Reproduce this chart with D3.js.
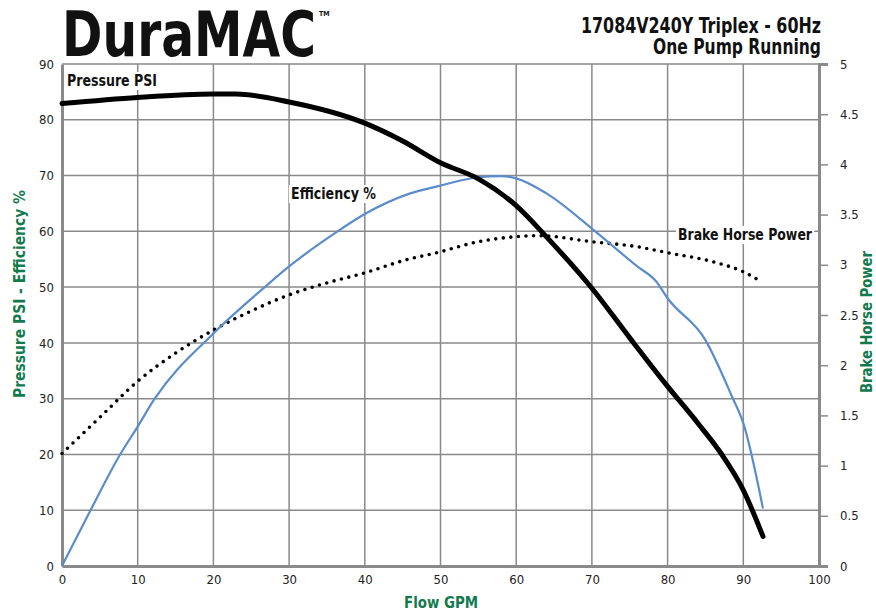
<!DOCTYPE html>
<html>
<head>
    <meta charset="utf-8">
    <title>DuraMAC 17084V240Y Triplex - 60Hz</title>
    <script src="https://d3js.org/d3.v7.min.js"></script>
    <style>
        body { margin: 0; background: #fff; }
        svg { display: block; }
        text { font-family: "DejaVu Sans Condensed", "DejaVu Sans", sans-serif; font-stretch: condensed; font-weight: bold; }
    </style>
</head>
<body>
<svg id="chart" width="876" height="611"></svg>
<script>
    // flow (GPM) vs pressure (PSI)
    var pressureFlow = [0, 10, 20, 23, 30, 40, 45, 50, 55, 60, 64, 70, 75, 80, 84, 87, 90, 92.6];
    var pressurePsi  = [82.9, 84.0, 84.6, 84.6, 83.2, 79.4, 76.2, 72.3, 69.4, 64.6, 59.0, 49.8, 40.9, 32.2, 25.6, 20.3, 13.6, 5.3];

    // flow vs efficiency %
    var effFlow = [0, 3.7, 7.6, 10, 12.2, 20, 26.7, 30, 36.3, 40, 46, 50, 55, 58, 60, 64, 70, 76, 78.5, 80, 85, 88.5, 90, 92.6];
    var effPct  = [0, 9.8, 19.8, 25.0, 29.9, 41.7, 49.9, 53.7, 59.9, 63.1, 66.8, 68.2, 69.7, 69.9, 69.5, 66.8, 60.5, 53.7, 51.0, 48.0, 40.5, 30.4, 25.6, 10.3];

    // flow vs brake horse power
    var bhpFlow = [0, 5, 10, 15, 20, 25, 30, 35, 40, 45, 50, 55, 60, 63, 70, 76, 80, 86, 90, 92.2];
    var bhpVal  = [1.12, 1.48, 1.84, 2.12, 2.35, 2.54, 2.70, 2.82, 2.92, 3.04, 3.13, 3.23, 3.28, 3.29, 3.23, 3.18, 3.12, 3.03, 2.93, 2.84];

    var xTicks = d3.range(0, 101, 10);
    var leftTicks = d3.range(0, 91, 10);
    var rightTicks = d3.range(0, 5.01, 0.5);

    (function() {
        var svg = d3.select("#chart");
        var mLeft = 62, mRight = 819, mTop = 64, mBottom = 566;
        var green = "#137a4e", grid = "#8a8a8a";

        var x = d3.scaleLinear().domain([0, 100]).range([mLeft, mRight]);
        var y = d3.scaleLinear().domain([0, 90]).range([mBottom, mTop]);
        var y2 = d3.scaleLinear().domain([0, 5]).range([mBottom, mTop]);

        // grid
        svg.append("g").selectAll("line").data(xTicks.slice(1, -1)).enter().append("line")
            .attr("x1", d => x(d)).attr("x2", d => x(d)).attr("y1", mTop).attr("y2", mBottom)
            .style("stroke", grid).style("stroke-width", 1.5);
        svg.append("g").selectAll("line").data(leftTicks.slice(1)).enter().append("line")
            .attr("x1", mLeft).attr("x2", mRight).attr("y1", d => y(d)).attr("y2", d => y(d))
            .style("stroke", grid).style("stroke-width", 1.5);

        // axes
        var xAxis = svg.append("g").attr("transform", "translate(0," + mBottom + ")")
            .call(d3.axisBottom(x).tickValues(xTicks).tickSize(0).tickPadding(9));
        var yAxis = svg.append("g").attr("transform", "translate(" + mLeft + ",0)")
            .call(d3.axisLeft(y).tickValues(leftTicks).tickSize(0).tickPadding(8));
        var y2Axis = svg.append("g").attr("transform", "translate(" + mRight + ",0)")
            .call(d3.axisRight(y2).tickValues(rightTicks).tickSize(9).tickPadding(12)
                .tickFormat(d => d3.format("~g")(d)));

        [xAxis, yAxis, y2Axis].forEach(function(a) {
            a.select(".domain").style("stroke", grid).style("stroke-width", 3);
            a.selectAll(".tick line").style("stroke", grid).style("stroke-width", 1.5);
            a.selectAll("text").style("font-size", "13px").style("fill", "#222")
                .style("font-family", "'DejaVu Sans Condensed', sans-serif")
                .style("font-weight", "normal");
        });

        // curves
        var line = d3.line().x(d => x(d[0])).y(d => d[2](d[1])).curve(d3.curveMonotoneX);

        svg.append("path")
            .datum(bhpFlow.map((f, i) => [f, bhpVal[i], y2]))
            .attr("d", line)
            .style("fill", "none").style("stroke", "#000").style("stroke-width", 3.6)
            .style("stroke-linecap", "round").style("stroke-dasharray", "0 7.6");

        svg.append("path")
            .datum(effFlow.map((f, i) => [f, effPct[i], y]))
            .attr("d", line)
            .style("fill", "none").style("stroke", "#5b8ccc").style("stroke-width", 2.2);

        svg.append("path")
            .datum(pressureFlow.map((f, i) => [f, pressurePsi[i], y]))
            .attr("d", line)
            .style("fill", "none").style("stroke", "#000").style("stroke-width", 5)
            .style("stroke-linecap", "round");

        function fitText(sel, len) {
            sel.attr("textLength", len).attr("lengthAdjust", "spacingAndGlyphs");
            return sel;
        }

        // curve labels with white backing
        function label(txt, lx, ly, len) {
            var g = svg.append("g");
            var t = g.append("text").attr("x", lx).attr("y", ly).text(txt)
                .style("font-size", "15px").style("fill", "#111");
            fitText(t, len);
            var b = t.node().getBBox();
            g.insert("rect", "text").attr("x", b.x - 2).attr("y", b.y).attr("width", b.width + 4)
                .attr("height", b.height).style("fill", "#fff");
        }
        label("Pressure PSI", 67, 86, 90);
        label("Efficiency %", 291, 199, 85);
        label("Brake Horse Power", 678, 240, 134);

        // titles
        fitText(svg.append("text").attr("x", 62).attr("y", 56).text("DuraMAC")
            .style("font-size", "62px").style("fill", "#111"), 254);
        svg.append("text").attr("x", 319).attr("y", 16).text("TM")
            .style("font-size", "7px").style("fill", "#111");
        fitText(svg.append("text").attr("x", 821).attr("y", 33).attr("text-anchor", "end")
            .text("17084V240Y Triplex - 60Hz").style("font-size", "22px").style("fill", "#111"), 240);
        fitText(svg.append("text").attr("x", 821).attr("y", 54).attr("text-anchor", "end")
            .text("One Pump Running").style("font-size", "22px").style("fill", "#111"), 168);

        // axis titles
        fitText(svg.append("text").attr("x", 441).attr("y", 608).attr("text-anchor", "middle")
            .text("Flow GPM").style("font-size", "16px").style("fill", green), 74);
        fitText(svg.append("text").attr("transform", "translate(25,294) rotate(-90)").attr("text-anchor", "middle")
            .text("Pressure PSI - Efficiency %").style("font-size", "16px").style("fill", green), 208);
        fitText(svg.append("text").attr("transform", "translate(872,322) rotate(-90)").attr("text-anchor", "middle")
            .text("Brake Horse Power").style("font-size", "16px").style("fill", green), 142);
    })();
</script>
</body>
</html>
